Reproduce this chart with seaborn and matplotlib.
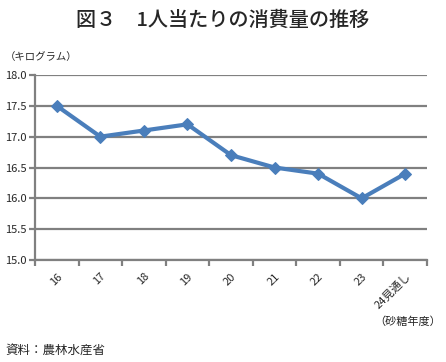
import pandas as pd
import seaborn as sns
import matplotlib.pyplot as plt

# Data
years = ['16', '17', '18', '19', '20', '21', '22', '23', '24見通し']
consumption = [17.5, 17.0, 17.1, 17.2, 16.7, 16.5, 16.4, 16.0, 16.4]
y_ticks = [15.0, 15.5, 16.0, 16.5, 17.0, 17.5, 18.0]

data = pd.DataFrame({'year': years, 'kg': consumption})
data['pos'] = range(len(years))

sns.set_theme(style='white')
plt.rcParams['font.family'] = ['Noto Sans CJK JP', 'DejaVu Sans']

fig = plt.figure(figsize=(4.46, 3.62), dpi=100)
ax = fig.add_axes([35 / 446, 1 - 260 / 362, 392 / 446, 185 / 362])

grid_color = '#808080'
for v in y_ticks:
    ax.axhline(v, color=grid_color, linewidth=1.6, zorder=1)

sns.lineplot(data=data, x='pos', y='kg', ax=ax, color='#4a7ebb', linewidth=3,
             marker='D', markersize=6, markeredgecolor='#4a7ebb', zorder=3)

ax.set_xlim(-0.5, len(years) - 0.5)
ax.set_ylim(15.0, 18.0)
ax.set_yticks(y_ticks)
ax.set_yticklabels([f'{v:.1f}' for v in y_ticks], fontsize=8)
ax.set_xticks(range(len(years)))
ax.set_xticklabels(years, rotation=45, ha='right', rotation_mode='anchor', fontsize=8)
ax.set_xticks([i - 0.5 for i in range(len(years) + 1)], minor=True)
ax.tick_params(axis='x', which='major', length=0, pad=8)
ax.tick_params(axis='x', which='minor', length=4, width=1.6, color=grid_color, bottom=True)
ax.tick_params(axis='y', length=4, width=1.6, color=grid_color, left=True, pad=2)
ax.set_xlabel('')
ax.set_ylabel('')

for side in ['top', 'right']:
    ax.spines[side].set_visible(False)
for side in ['left', 'bottom']:
    ax.spines[side].set_color(grid_color)
    ax.spines[side].set_linewidth(1.6)

fig.text(0.5, 1 - 20 / 362, '図３　1人当たりの消費量の推移', ha='center', va='center',
         fontsize=14.5, fontweight='medium')
fig.text(5 / 446, 1 - 57 / 362, '（キログラム）', ha='left', va='center', fontsize=7.5)
fig.text(441 / 446, 1 - 322 / 362, '（砂糖年度）', ha='right', va='center', fontsize=8)
fig.text(5 / 446, 1 - 350 / 362, '資料：農林水産省', ha='left', va='center', fontsize=9)

plt.savefig('out.png', dpi=100)
plt.close()
